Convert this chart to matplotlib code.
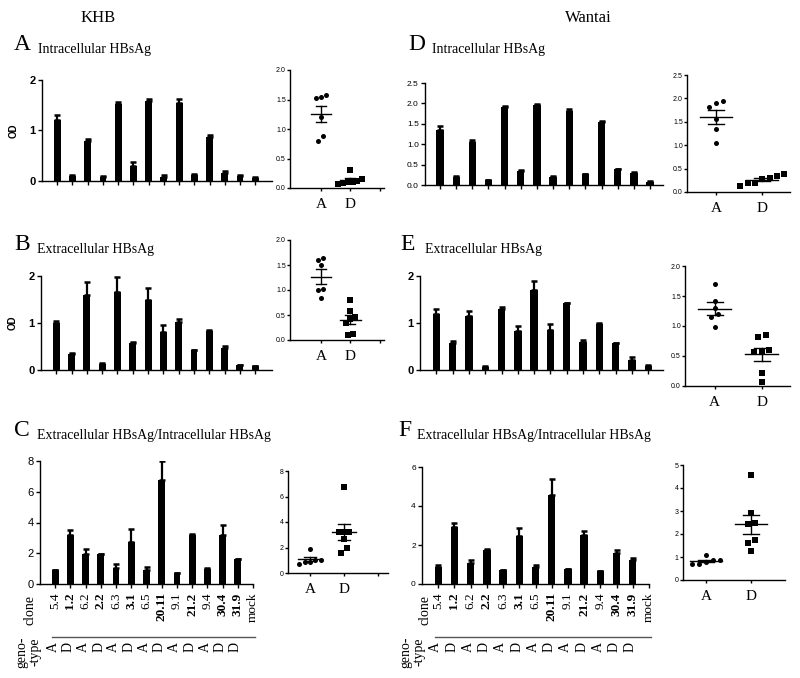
import numpy as np
import matplotlib
matplotlib.use("Agg")
import matplotlib.pyplot as plt
from matplotlib import transforms

W, H = 800, 678

clones = ["5.4", "1.2", "6.2", "2.2", "6.3", "3.1", "6.5", "20.11",
          "9.1", "21.2", "9.4", "30.4", "31.9", "mock"]
genotype = ["A", "D", "A", "D", "A", "D", "A", "D", "A", "D", "A", "D", "D"]

# KHB kit
khb_intra = [1.2, 0.1, 0.8, 0.07, 1.52, 0.3, 1.58, 0.08, 1.55, 0.12, 0.88, 0.15, 0.1, 0.06]
khb_intra_err = [0.1, 0.02, 0.03, 0.02, 0.05, 0.08, 0.04, 0.03, 0.07, 0.02, 0.03, 0.04, 0.02, 0.01]
khb_extra = [1.0, 0.35, 1.6, 0.12, 1.65, 0.58, 1.5, 0.8, 1.02, 0.42, 0.84, 0.47, 0.1, 0.08]
khb_extra_err = [0.04, 0.02, 0.28, 0.02, 0.32, 0.01, 0.25, 0.15, 0.07, 0.01, 0.01, 0.04, 0.01, 0.01]
khb_ratio = [0.9, 3.2, 1.92, 1.95, 1.05, 2.7, 0.9, 6.75, 0.7, 3.2, 1.0, 3.2, 1.6]
khb_ratio_err = [0.03, 0.3, 0.38, 0.03, 0.25, 0.9, 0.2, 1.25, 0.03, 0.05, 0.03, 0.65, 0.03]

# Wantai kit
wantai_intra = [1.35, 0.2, 1.05, 0.12, 1.9, 0.35, 1.95, 0.2, 1.82, 0.27, 1.55, 0.38, 0.3, 0.08]
wantai_intra_err = [0.1, 0.01, 0.05, 0.01, 0.04, 0.01, 0.03, 0.01, 0.05, 0.01, 0.02, 0.01, 0.01, 0.01]
wantai_extra = [1.2, 0.58, 1.15, 0.07, 1.3, 0.82, 1.7, 0.85, 1.42, 0.6, 0.98, 0.57, 0.22, 0.08]
wantai_extra_err = [0.1, 0.04, 0.1, 0.01, 0.04, 0.12, 0.2, 0.13, 0.01, 0.03, 0.01, 0.01, 0.05, 0.02]
wantai_ratio = [0.85, 2.9, 1.1, 1.75, 0.7, 2.45, 0.85, 4.55, 0.78, 2.5, 0.68, 1.6, 1.25]
wantai_ratio_err = [0.1, 0.25, 0.15, 0.07, 0.01, 0.4, 0.13, 0.85, 0.01, 0.22, 0.01, 0.12, 0.07]

SERIF = "Liberation Serif"
SANS = "Liberation Sans"

fig = plt.figure(figsize=(W / 100, H / 100), dpi=100)


def px_axes(l, t, r, b):
    return fig.add_axes([l / W, 1 - b / H, (r - l) / W, (b - t) / H])


def ftext(x, y, s, **kw):
    fig.text(x / W, 1 - y / H, s, **kw)


def style(ax):
    for s in ["top", "right"]:
        ax.spines[s].set_visible(False)
    for s in ["left", "bottom"]:
        ax.spines[s].set_linewidth(1.0)
    ax.tick_params(direction="out", width=1.0, length=3, pad=1.5)


def bar_panel(box, vals, errs, ylim, yticks, ylabels, xlim, bold=False, fsize=7):
    ax = px_axes(*box)
    style(ax)
    x = np.arange(len(vals))
    ax.bar(x, vals, width=0.45, color="black")
    ax.errorbar(x, vals, yerr=[np.zeros(len(vals)), errs], fmt="none",
                ecolor="black", elinewidth=1.6, capsize=2.5, capthick=1.8)
    ax.set_xlim(*xlim)
    ax.set_ylim(*ylim)
    ax.set_xticks(np.arange(len(clones)))
    ax.set_xticklabels([])
    ax.set_yticks(yticks)
    ax.set_yticklabels(ylabels, fontsize=fsize, family=SANS,
                       fontweight="bold" if bold else "normal")
    return ax


def spread(vals, tol, step):
    # spread points with close values sideways, like a dot plot
    vals = np.asarray(vals)
    order = np.argsort(vals)
    offs = np.zeros(len(vals))
    group = [order[0]]
    groups = []
    for i in order[1:]:
        if vals[i] - vals[group[-1]] < tol:
            group.append(i)
        else:
            groups.append(group)
            group = [i]
    groups.append(group)
    for g in groups:
        k = len(g)
        for j, idx in enumerate(g):
            offs[idx] = (j - (k - 1) / 2) * step
    return offs


def scatter_panel(box, vals, ylim, yticks, ylabels, xlim, xticks):
    ax = px_axes(*box)
    style(ax)
    ax.tick_params(length=2, pad=1)
    vals = np.asarray(vals[:len(genotype)])
    tol = (ylim[1] - ylim[0]) * 0.045
    for pos, g, mk in [(1, "A", "o"), (2, "D", "s")]:
        v = np.array([vals[i] for i in range(len(genotype)) if genotype[i] == g])
        xo = pos + spread(v, tol, 0.16)
        ax.scatter(xo, v, marker=mk, s=13, color="black", zorder=3, linewidths=0)
        m = v.mean()
        se = v.std(ddof=1) / np.sqrt(len(v))
        ax.plot([pos - 0.35, pos + 0.35], [m, m], color="black", lw=1.0)
        ax.plot([pos, pos], [m - se, m + se], color="black", lw=1.0)
        for yy in (m - se, m + se):
            ax.plot([pos - 0.17, pos + 0.17], [yy, yy], color="black", lw=1.0)
    ax.set_xlim(*xlim)
    ax.set_ylim(*ylim)
    ax.set_xticks(xticks)
    ax.set_xticklabels(["A", "D", ""][:len(xticks)], family=SERIF, fontsize=11)
    ax.tick_params(axis="x", pad=5)
    ax.set_yticks(yticks)
    ax.set_yticklabels(ylabels, fontsize=5, family=SANS)
    return ax


def clone_labels(ax):
    ax.set_xticks(np.arange(len(clones)))
    ax.set_xticklabels(clones, rotation=90, family=SERIF, fontsize=9.5, va="top")
    ax.tick_params(axis="x", pad=3)
    for lab in ax.get_xticklabels():
        t = lab.get_text()
        if t in clones[:len(genotype)] and genotype[clones.index(t)] == "D":
            lab.set_fontweight("bold")
    tr = transforms.blended_transform_factory(ax.transData, fig.transFigure)
    yl = 1 - 637 / H
    ax.plot([-0.2, len(genotype) + 0.1], [yl, yl], transform=tr, color="#555555",
            lw=1.0, clip_on=False)
    for i, g in enumerate(genotype):
        ax.text(i - 0.15, 1 - 642 / H, g, transform=tr, rotation=90, ha="center",
                va="top", family=SERIF, fontsize=10)


# Column headers
ftext(98, 18, "KHB", family=SERIF, fontsize=12, ha="center", va="center")
ftext(588, 18, "Wantai", family=SERIF, fontsize=12, ha="center", va="center")

# Panel titles
for letter, lx, ly, sub, sx in [("A", 14, 45, "Intracellular HBsAg", 38),
                                ("B", 14, 245, "Extracellular HBsAg", 37),
                                ("C", 14, 431, "Extracellular HBsAg/Intracellular HBsAg", 37),
                                ("D", 408, 45, "Intracellular HBsAg", 432),
                                ("E", 400, 244, "Extracellular HBsAg", 425),
                                ("F", 398, 430, "Extracellular HBsAg/Intracellular HBsAg", 417)]:
    ftext(lx, ly, letter, family=SERIF, fontsize=17, va="center")
    ftext(sx, ly + 5, sub, family=SERIF, fontsize=10, va="center")

# KHB bars
axA = bar_panel((42, 80, 272, 181), khb_intra, khb_intra_err, (0, 2), [0, 1, 2],
                ["0", "1", "2"], (-1, 14.1), bold=True, fsize=8)
axA.set_ylabel("OD", family=SANS, fontweight="bold", fontsize=7, labelpad=8)
axB = bar_panel((41, 276, 272, 370), khb_extra, khb_extra_err, (0, 2), [0, 1, 2],
                ["0", "1", "2"], (-1, 14.1), bold=True, fsize=8)
axB.set_ylabel("OD", family=SANS, fontweight="bold", fontsize=7, labelpad=8)
axC = bar_panel((40, 461, 253, 584), khb_ratio, khb_ratio_err, (0, 8), [0, 2, 4, 6, 8],
                ["0", "2", "4", "6", "8"], (-1, 13), fsize=8)
clone_labels(axC)
ftext(30, 595, "clone", family=SERIF, fontsize=10, rotation=90, ha="center", va="top")
ftext(28, 636, "geno-\n-type", family=SERIF, fontsize=10, rotation=90, ha="center",
      va="top", linespacing=1.0)

# Wantai bars
axD = bar_panel((425, 83, 663, 185), wantai_intra, wantai_intra_err, (0, 2.5),
                [0, 0.5, 1, 1.5, 2, 2.5], ["0.0", "0.5", "1.0", "1.5", "2.0", "2.5"],
                (-0.93, 13.8), fsize=6)
axE = bar_panel((420, 276, 663, 370), wantai_extra, wantai_extra_err, (0, 2), [0, 1, 2],
                ["0", "1", "2"], (-1, 13.9), bold=True, fsize=8)
axF = bar_panel((422, 467, 649, 584), wantai_ratio, wantai_ratio_err, (0, 6), [0, 2, 4, 6],
                ["0", "2", "4", "6"], (-1, 13), fsize=6)
clone_labels(axF)
ftext(425, 595, "clone", family=SERIF, fontsize=10, rotation=90, ha="center", va="top")
ftext(412, 636, "geno-\n-type", family=SERIF, fontsize=10, rotation=90, ha="center",
      va="top", linespacing=1.0)

# Genotype scatter plots
dec = lambda t: [f"{v:.1f}" for v in t]
scatter_panel((290, 70, 384, 188), khb_intra, (0, 2), [0, 0.5, 1, 1.5, 2],
              dec([0, 0.5, 1, 1.5, 2]), (-0.05, 3.15), [1, 2, 3])
scatter_panel((290, 240, 384, 340), khb_extra, (0, 2), [0, 0.5, 1, 1.5, 2],
              dec([0, 0.5, 1, 1.5, 2]), (-0.05, 3.15), [1, 2, 3])
scatter_panel((288, 471, 388, 573), khb_ratio, (0, 8), [0, 2, 4, 6, 8],
              ["0", "2", "4", "6", "8"], (0.35, 3.3), [1, 2, 3])
scatter_panel((687, 75, 790, 192), wantai_intra, (0, 2.5), [0, 0.5, 1, 1.5, 2, 2.5],
              dec([0, 0.5, 1, 1.5, 2, 2.5]), (0.37, 2.6), [1, 2])
scatter_panel((685, 266, 790, 386), wantai_extra, (0, 2), [0, 0.5, 1, 1.5, 2],
              dec([0, 0.5, 1, 1.5, 2]), (0.37, 2.6), [1, 2])
scatter_panel((683, 465, 785, 580), wantai_ratio, (0, 5), [0, 1, 2, 3, 4, 5],
              ["0", "1", "2", "3", "4", "5"], (0.49, 2.75), [1, 2])

fig.savefig("out.png", dpi=100)
